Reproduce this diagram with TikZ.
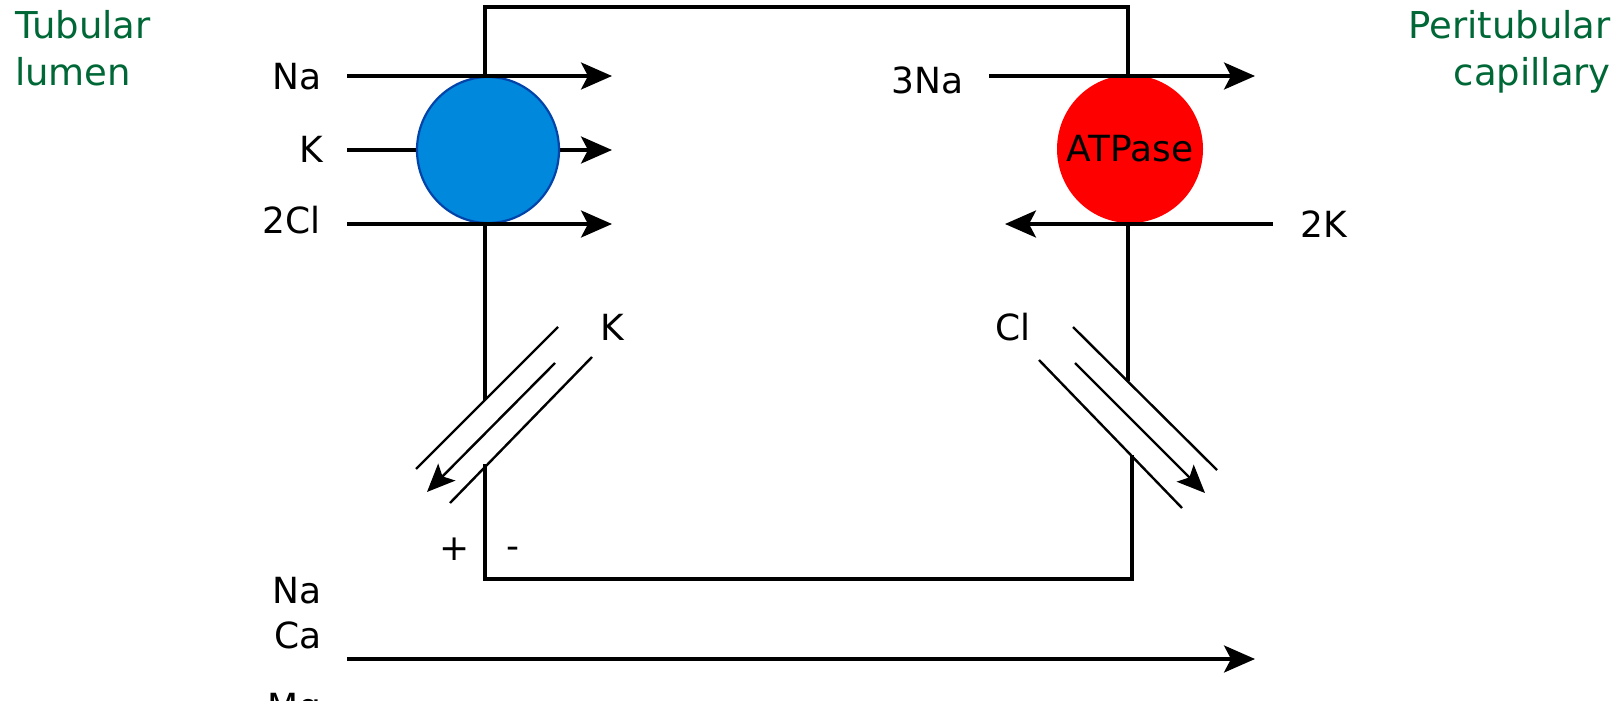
\documentclass[tikz,border=0pt]{standalone}
\usepackage{fontspec}
\setmainfont{DejaVu Sans}
\usetikzlibrary{arrows.meta,shapes.geometric}
\definecolor{regiongreen}{RGB}{0,104,55}
\definecolor{cotblue}{RGB}{0,136,221}
\definecolor{cotedge}{RGB}{0,68,170}
\definecolor{pumpred}{RGB}{255,0,0}
\begin{document}
\begin{tikzpicture}[x=1pt,y=-1pt,
  membrane/.style={line width=3.3pt},
  flow/.style={line width=3.3pt,-{Stealth[length=31pt,width=27pt,inset=7pt]}},
  chan/.style={line width=2.4pt},
  chanarrow/.style={line width=2.4pt,-{Stealth[length=28pt,width=24pt,inset=6pt]}},
  ion/.style={font=\fontsize{36pt}{43pt}\selectfont, inner sep=0pt},
  region/.style={font=\fontsize{37pt}{44pt}\selectfont, text=regiongreen, inner sep=0pt},
]
\clip (0,0) rectangle (1615,701);
\fill[white] (0,0) rectangle (1615,701);

% cell outline (membranes)
\draw[membrane] (485,76) -- (485,7) -- (1128,7) -- (1128,76);
\draw[membrane] (485,224) -- (485,400);
\draw[membrane] (485,464) -- (485,579) -- (1132,579) -- (1132,455);
\draw[membrane] (1128,224) -- (1128,381);

% transporters
\node[ellipse, draw=cotedge, line width=2.2pt, fill=cotblue, minimum width=142pt, minimum height=146pt, inner sep=0pt] (nkcc) at (488,150) {};
\node[ellipse, fill=pumpred, minimum width=146pt, minimum height=148pt, inner sep=0pt] (atp) at (1130,149) {};
\node[ion] (atpl) at (atp.center) {ATPase};

% apical cotransport
\coordinate (naS) at (347,76);  \coordinate (naE) at (612,76);
\coordinate (kS) at (347,150);  \coordinate (kE) at (612,150);
\coordinate (clS) at (347,224); \coordinate (clE) at (612,224);
\draw[flow] (naS) -- (naE);
\draw[membrane] (kS) -- (nkcc.west);
\draw[flow] (nkcc.east) -- (kE);
\draw[flow] (clS) -- (clE);

% basolateral pump
\coordinate (pNaS) at (989,76);  \coordinate (pNaE) at (1255,76);
\coordinate (pKS) at (1273,224); \coordinate (pKE) at (1005,224);
\draw[flow] (pNaS) -- (pNaE);
\draw[flow] (pKS) -- (pKE);

% paracellular
\coordinate (paraS) at (347,659); \coordinate (paraE) at (1255,659);
\draw[flow] (paraS) -- (paraE);

% K channel (apical)
\coordinate (ka1) at (558,327); \coordinate (kb1) at (416,469);
\coordinate (ka2) at (555,363); \coordinate (kb2) at (427,492);
\coordinate (ka3) at (592,357); \coordinate (kb3) at (450,503);
\draw[chan] (ka1) -- (kb1);
\draw[chanarrow] (ka2) -- (kb2);
\draw[chan] (ka3) -- (kb3);

% Cl channel (basolateral)
\coordinate (ca1) at (1073,327); \coordinate (cb1) at (1217,470);
\coordinate (ca2) at (1075,363); \coordinate (cb2) at (1205,493);
\coordinate (ca3) at (1039,360); \coordinate (cb3) at (1182,508);
\draw[chan] (ca1) -- (cb1);
\draw[chanarrow] (ca2) -- (cb2);
\draw[chan] (ca3) -- (cb3);

% labels
\node[ion, anchor=base east] (lNa) at (322,89) {Na};
\node[ion, anchor=base east] (lK) at (323,162) {K};
\node[ion, anchor=base east] (lCl) at (321,233) {2Cl};
\node[ion, anchor=base east] (l3Na) at (964,93) {3Na};
\node[ion, anchor=base west] (l2K) at (1300,237) {2K};
\node[ion, anchor=base west] (lKc) at (600,340) {K};
\node[ion, anchor=base west] (lClc) at (995,340) {Cl};
\node[ion, anchor=base] (plus) at (455,560) {+};
\node[ion, anchor=base] (minus) at (513,558) {-};
\node[ion, anchor=base east] (bNa) at (322,603) {Na};
\node[ion, anchor=base east] (bCa) at (322,648) {Ca};
\node[ion, anchor=base east] (bMg) at (322,719) {Mg};

\node[region, anchor=base west] (tub) at (15,39) {Tubular};
\node[region, anchor=base west] (lum) at (15,85) {lumen};
\node[region, anchor=base east] (peri) at (1611,39) {Peritubular};
\node[region, anchor=base east] (cap) at (1611,85) {capillary};
\end{tikzpicture}
\end{document}
